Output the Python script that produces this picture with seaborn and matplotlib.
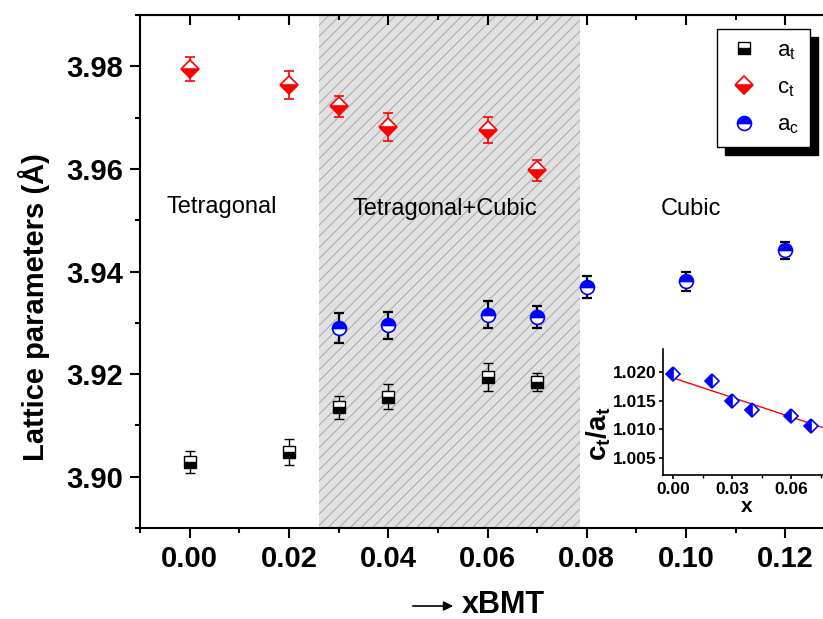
import numpy as np
import pandas as pd
import matplotlib
matplotlib.use("Agg")
import matplotlib.pyplot as plt
import seaborn as sns
from matplotlib.ticker import MultipleLocator, FormatStrFormatter
from matplotlib.lines import Line2D

# ---------------- data ----------------
x_tet = [0.00, 0.02, 0.03, 0.04, 0.06, 0.07]
a_t = [3.9029, 3.9048, 3.9135, 3.9156, 3.9195, 3.9185]
a_t_err = [0.0021, 0.0026, 0.0023, 0.0025, 0.0027, 0.0018]
c_t = [3.9795, 3.9764, 3.9722, 3.9681, 3.9676, 3.9597]
c_t_err = [0.0024, 0.0027, 0.0021, 0.0027, 0.0026, 0.0021]

x_cub = [0.03, 0.04, 0.06, 0.07, 0.08, 0.10, 0.12]
a_c = [3.9290, 3.9295, 3.9316, 3.9311, 3.9370, 3.9381, 3.9441]
a_c_err = [0.0029, 0.0026, 0.0026, 0.0021, 0.0021, 0.0019, 0.0016]

ratio_x = [0.00, 0.02, 0.03, 0.04, 0.06, 0.07]
ratio = [1.01965, 1.01848, 1.01500, 1.01341, 1.01224, 1.01056]
fit_x = [0.00, 0.08]
fit_y = [1.01895, 1.00985]

mixed_region = [0.026, 0.0786]
phase_labels = ["Tetragonal", "Tetragonal+Cubic", "Cubic"]
phase_label_x = [0.0065, 0.0514, 0.1010]
phase_label_y = [3.9514, 3.9510, 3.9511]

main_xticks = [0.00, 0.02, 0.04, 0.06, 0.08, 0.10, 0.12]
main_yticks = [3.90, 3.92, 3.94, 3.96, 3.98]
inset_xticks = [0.00, 0.03, 0.06]
inset_yticks = [1.005, 1.010, 1.015, 1.020]

# ---------------- style ----------------
sns.set_style("ticks")
plt.rcParams["font.family"] = ["Liberation Sans", "DejaVu Sans"]
plt.rcParams["mathtext.fontset"] = "custom"
plt.rcParams["mathtext.rm"] = "Liberation Sans"
plt.rcParams["mathtext.bf"] = "Liberation Sans:bold"
plt.rcParams["mathtext.it"] = "Liberation Sans:italic"
plt.rcParams["hatch.linewidth"] = 0.7
plt.rcParams["axes.linewidth"] = 1.5
for k in ["text.color", "axes.labelcolor", "xtick.color", "ytick.color",
          "axes.edgecolor"]:
    plt.rcParams[k] = "black"

W, H = 823, 619
fig = plt.figure(figsize=(W / 100, H / 100), dpi=100)
fig.patch.set_facecolor("white")

def fx(px):
    return px / W

def fy(py):
    return 1 - py / H

ax = fig.add_axes([fx(140), fy(528), fx(835) - fx(140), fy(15) - fy(528)])
ax.set_facecolor("white")

# shaded two-phase region
ax.axvspan(mixed_region[0], mixed_region[1], facecolor="#e1e1e1",
           edgecolor="#a6a6a6", hatch="///", linewidth=0, zorder=0)

# error bars
ax.errorbar(x_tet, a_t, yerr=a_t_err, fmt="none", ecolor="black",
            elinewidth=1.0, capsize=3.6, capthick=1.0, zorder=3)
ax.errorbar(x_tet, c_t, yerr=c_t_err, fmt="none", ecolor="red",
            elinewidth=1.2, capsize=3.6, capthick=1.2, zorder=3)
ax.errorbar(x_cub, a_c, yerr=a_c_err, fmt="none", ecolor="black",
            elinewidth=1.6, capsize=3.6, capthick=1.6, zorder=3)

df_at = pd.DataFrame({"x": x_tet, "y": a_t})
df_ct = pd.DataFrame({"x": x_tet, "y": c_t})
df_ac = pd.DataFrame({"x": x_cub, "y": a_c})

sq_kw = dict(marker="s", markersize=8.6, fillstyle="bottom",
             markerfacecolor="black", markerfacecoloralt="white",
             markeredgecolor="black", markeredgewidth=1.0)
di_kw = dict(marker="D", markersize=9.3, fillstyle="bottom",
             markerfacecolor="red", markerfacecoloralt="white",
             markeredgecolor="red", markeredgewidth=1.2)
ci_kw = dict(marker="o", markersize=10.0, fillstyle="top",
             markerfacecolor="blue", markerfacecoloralt="white",
             markeredgecolor="blue", markeredgewidth=1.2)

sns.lineplot(data=df_at, x="x", y="y", ax=ax, color="black", linestyle="none",
             errorbar=None, legend=False, zorder=4, **sq_kw)
sns.lineplot(data=df_ct, x="x", y="y", ax=ax, color="red", linestyle="none",
             errorbar=None, legend=False, zorder=4, **di_kw)
sns.lineplot(data=df_ac, x="x", y="y", ax=ax, color="blue", linestyle="none",
             errorbar=None, legend=False, zorder=4, **ci_kw)

for lab, lx, ly in zip(phase_labels, phase_label_x, phase_label_y):
    ax.text(lx, ly, lab, ha="center", va="baseline", fontsize=17, color="black")

ax.set_xlim(-0.01, 0.13)
ax.set_ylim(3.89, 3.99)
ax.set_xticks(main_xticks)
ax.set_yticks(main_yticks)
ax.xaxis.set_minor_locator(MultipleLocator(0.01))
ax.yaxis.set_minor_locator(MultipleLocator(0.01))
ax.xaxis.set_major_formatter(FormatStrFormatter("%.2f"))
ax.yaxis.set_major_formatter(FormatStrFormatter("%.2f"))
ax.tick_params(which="major", direction="out", length=7, width=1.5,
               labelsize=21, pad=5)
ax.tick_params(which="minor", direction="out", length=3.5, width=1.5)
for lbl in ax.get_xticklabels() + ax.get_yticklabels():
    lbl.set_fontweight("bold")
ax.spines["right"].set_visible(False)
ax.set_xlabel("")
ax.set_ylabel("Lattice parameters (Å)", fontsize=21, fontweight="bold")
ax.yaxis.set_label_coords(-0.13, 0.43)

# top axis ticks pointing inward
sec = ax.secondary_xaxis("top")
sec.set_xticks(main_xticks)
sec.xaxis.set_minor_locator(MultipleLocator(0.01))
sec.tick_params(axis="x", which="major", direction="in", length=7, width=1.5,
                labeltop=False)
sec.tick_params(axis="x", which="minor", direction="in", length=3.5, width=1.5)
sec.spines["top"].set_linewidth(1.5)

# legend
handles = [
    Line2D([], [], linestyle="none", color="black", **sq_kw),
    Line2D([], [], linestyle="none", color="red", **di_kw),
    Line2D([], [], linestyle="none", color="blue", **ci_kw),
]
labels = [r"$\mathregular{a_t}$", r"$\mathregular{c_t}$", r"$\mathregular{a_c}$"]
leg = ax.legend(handles, labels, loc="upper left",
                bbox_to_anchor=(fx(717), fy(29)), bbox_transform=fig.transFigure,
                borderaxespad=0, fontsize=16, frameon=True, fancybox=False,
                framealpha=1, edgecolor="black", labelspacing=0.7,
                handletextpad=0.8, borderpad=0.5, handlelength=1.4,
                shadow={"ox": 5.5, "oy": -5.5, "facecolor": "black",
                        "edgecolor": "black", "alpha": 1})
leg.get_frame().set_linewidth(1.0)

# x label with arrow
fig.text(fx(503), fy(613), "xBMT", ha="center", va="baseline",
         fontsize=22, fontweight="bold")
fig.add_artist(matplotlib.patches.FancyArrowPatch(
    (fx(410), fy(606)), (fx(456), fy(606)), transform=fig.transFigure,
    arrowstyle="-|>", mutation_scale=14, linewidth=1.2, color="black"))

# ---------------- inset ----------------
ins = fig.add_axes([fx(663.3), fy(475), fx(830.5) - fx(663.3), fy(349) - fy(475)])
ins.set_facecolor("none")
df_r = pd.DataFrame({"x": ratio_x, "y": ratio})
df_f = pd.DataFrame({"x": fit_x, "y": fit_y})
sns.lineplot(data=df_f, x="x", y="y", ax=ins, color="red", linewidth=1.0,
             errorbar=None, legend=False, zorder=2)
sns.lineplot(data=df_r, x="x", y="y", ax=ins, color="blue", linestyle="none",
             marker="D", markersize=7.5, fillstyle="left",
             markerfacecolor="blue", markerfacecoloralt="white",
             markeredgecolor="blue", markeredgewidth=1.2,
             errorbar=None, legend=False, zorder=3)
ins.set_xlim(-0.005, 0.08)
ins.set_ylim(1.002, 1.024)
ins.set_xticks(inset_xticks)
ins.set_yticks(inset_yticks)
ins.xaxis.set_minor_locator(MultipleLocator(0.015))
ins.xaxis.set_major_formatter(FormatStrFormatter("%.2f"))
ins.yaxis.set_major_formatter(FormatStrFormatter("%.3f"))
ins.tick_params(which="major", direction="out", length=3, width=1.2,
                labelsize=12.5, pad=2)
ins.tick_params(which="minor", direction="out", length=2, width=1.0)
for lbl in ins.get_xticklabels() + ins.get_yticklabels():
    lbl.set_fontweight("bold")
for s in ["top", "right"]:
    ins.spines[s].set_visible(False)
for s in ["left", "bottom"]:
    ins.spines[s].set_linewidth(1.2)
ins.set_xlabel("x", fontsize=15, fontweight="bold", labelpad=0)
ins.set_ylabel(r"$\mathbf{c_t/a_t}$", fontsize=20)
ins.yaxis.set_label_coords(-0.30, 0.33)

fig.savefig("out.png", dpi=100)
